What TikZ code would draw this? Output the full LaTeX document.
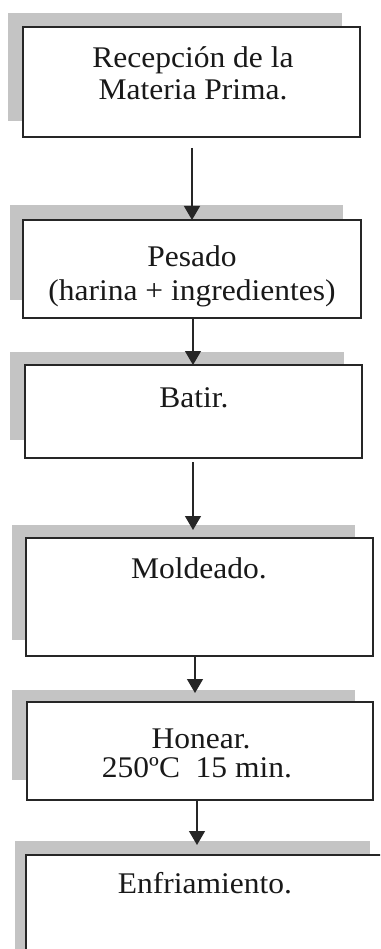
\documentclass[tikz,border=0pt]{standalone}
\usepackage{fontspec}
\setmainfont{Liberation Serif}[FakeStretch=1.05]
\usetikzlibrary{arrows.meta}
\definecolor{shd}{RGB}{196,196,196}
\tikzset{
  shadowbox/.style={fill=shd, draw=none, inner sep=0pt, outer sep=0pt, anchor=north west},
  stepbox/.style={fill=white, draw=black!85, line width=1.3pt, inner sep=0pt, outer sep=0pt, anchor=north west},
  lbl/.style={anchor=base, inner sep=0pt, font=\fontsize{30}{33}\selectfont, text=black!90},
  arr/.style={draw=black!85, line width=1.3pt, -{Triangle[width=16pt,length=14pt]}}
}
\begin{document}
\begin{tikzpicture}[x=1pt,y=-1pt]
\useasboundingbox (0,0) rectangle (380,949);
\clip (0,0) rectangle (380,949);
% shadows
\node[shadowbox, minimum width=334pt, minimum height=108pt] (s1) at (8,13) {};
\node[shadowbox, minimum width=333pt, minimum height=95pt] (s2) at (10,205) {};
\node[shadowbox, minimum width=334pt, minimum height=88pt] (s3) at (10,352) {};
\node[shadowbox, minimum width=343pt, minimum height=115pt] (s4) at (12,525) {};
\node[shadowbox, minimum width=343pt, minimum height=90pt] (s5) at (12,690) {};
\node[shadowbox, minimum width=355pt, minimum height=120pt] (s6) at (15,841) {};
% boxes
\node[stepbox, minimum width=337pt, minimum height=110pt] (b1) at (23,27) {};
\node[stepbox, minimum width=338pt, minimum height=98pt] (b2) at (23,220) {};
\node[stepbox, minimum width=337pt, minimum height=93pt] (b3) at (25,365) {};
\node[stepbox, minimum width=347pt, minimum height=118pt] (b4) at (26,538) {};
\node[stepbox, minimum width=346pt, minimum height=98pt] (b5) at (27,702) {};
\node[stepbox, minimum width=370pt, minimum height=120pt] (b6) at (26,855) {};
% arrow axes
\coordinate (x1) at (192,0);
\coordinate (x2) at (193,0);
\coordinate (x3) at (193,0);
\coordinate (x4) at (195,0);
\coordinate (x5) at (197,0);
% labels
\node[lbl] (t1a) at (193,68) {Recepción de la};
\node[lbl] (t1b) at (193,100) {Materia Prima.};
\node[lbl] (t2a) at (192,266) {Pesado};
\node[lbl] (t2b) at (192,300) {(harina + ingredientes)};
\node[lbl] (t3) at (194,407) {Batir.};
\node[lbl] (t4) at (199,578) {Moldeado.};
\node[lbl] (t5a) at (201,748) {Honear.};
\node[lbl] (t5b) at (197,777) {250ºC\ \ 15 min.};
\node[lbl] (t6) at (205,893) {Enfriamiento.};
% arrows
\draw[arr] ([yshift=-11pt]b1.south -| x1) -- (b2.north -| x1);
\draw[arr] (b2.south -| x2) -- (b3.north -| x2);
\draw[arr] ([yshift=-4pt]b3.south -| x3) -- ([yshift=8pt]b4.north -| x3);
\draw[arr] (b4.south -| x4) -- ([yshift=9pt]b5.north -| x4);
\draw[arr] (b5.south -| x5) -- ([yshift=10pt]b6.north -| x5);
\end{tikzpicture}
\end{document}
